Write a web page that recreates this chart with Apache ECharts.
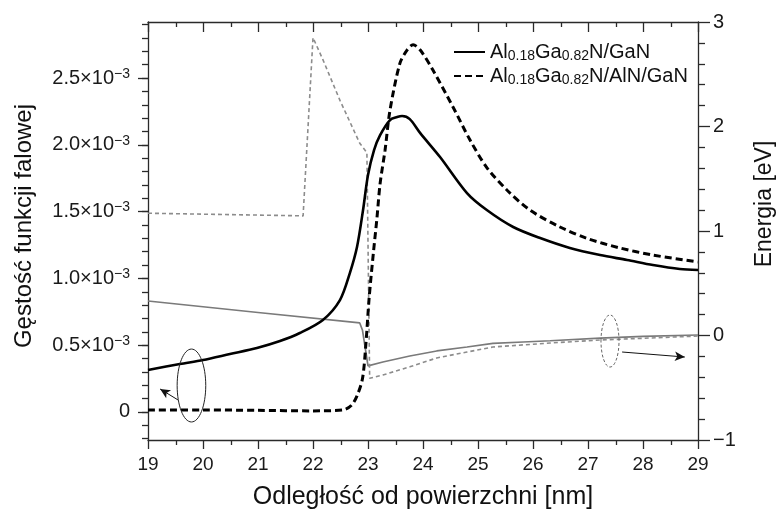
<!DOCTYPE html>
<html>
<head>
<meta charset="utf-8">
<script src="https://cdn.jsdelivr.net/npm/echarts@6/dist/echarts.min.js"></script>
<style>
  html, body { margin: 0; padding: 0; background: #fff; }
  #chart { width: 780px; height: 509px; }
</style>
</head>
<body>
<div id="chart"></div>
<script>
const FONT = "'Liberation Sans', Arial, Helvetica, sans-serif";

// Distance from the surface [nm] and wavefunction density [×10^-3]
const xGaN = [19.0, 19.58, 20.0, 20.49, 20.98, 21.4, 21.76, 22.18, 22.49, 22.67, 22.8, 22.91, 23.0, 23.11, 23.22, 23.4, 23.53, 23.62, 23.76, 23.95, 24.31, 24.8, 25.16, 25.64, 26.13, 26.67, 27.22, 27.71, 28.18, 28.67, 29.0];
const densityGaN = [0.314, 0.359, 0.389, 0.434, 0.479, 0.531, 0.591, 0.689, 0.838, 1.04, 1.235, 1.512, 1.774, 1.961, 2.073, 2.186, 2.208, 2.216, 2.193, 2.088, 1.909, 1.639, 1.512, 1.385, 1.302, 1.228, 1.175, 1.138, 1.1, 1.07, 1.063];

const xAlN = [19.0, 20.0, 21.0, 22.0, 22.55, 22.7, 22.8, 22.9, 22.96, 23.02, 23.1, 23.16, 23.22, 23.31, 23.4, 23.58, 23.71, 23.82, 23.95, 24.18, 24.55, 24.85, 25.16, 25.53, 25.95, 26.49, 26.98, 27.58, 28.18, 29.0];
const densityAlN = [0.015, 0.015, 0.012, 0.008, 0.015, 0.05, 0.12, 0.25, 0.5, 0.85, 1.2, 1.44, 1.71, 1.96, 2.26, 2.61, 2.71, 2.75, 2.71, 2.56, 2.28, 2.04, 1.83, 1.66, 1.51, 1.385, 1.3, 1.228, 1.175, 1.123];

// Conduction band edge [eV]
const xBandGaN = [19.0, 21.0, 22.85, 22.9, 23.0, 23.27, 23.76, 24.25, 24.8, 25.27, 25.82, 26.31, 27.22, 28.0, 29.0];
const bandGaN = [0.33, 0.22, 0.12, 0.05, -0.29, -0.254, -0.196, -0.148, -0.11, -0.075, -0.062, -0.05, -0.025, -0.008, 0.005];

const xBandAlN = [19.0, 21.82, 22.0, 22.18, 22.49, 22.85, 22.98, 23.03, 23.27, 23.76, 24.25, 24.8, 25.27, 25.82, 26.31, 27.22, 28.13, 29.0];
const bandAlN = [1.17, 1.145, 2.85, 2.64, 2.25, 1.84, 1.75, -0.41, -0.378, -0.30, -0.215, -0.158, -0.11, -0.09, -0.072, -0.043, -0.024, -0.005];

// Axis ticks
const distanceTicks = [19, 20, 21, 22, 23, 24, 25, 26, 27, 28, 29];
const distanceMinorTicks = [19.5, 20.5, 21.5, 22.5, 23.5, 24.5, 25.5, 26.5, 27.5, 28.5];
const densityTicks = [0, 0.5, 1.0, 1.5, 2.0, 2.5];
const densityMinorTicks = [-0.2, -0.1, 0, 0.1, 0.2, 0.3, 0.4, 0.5, 0.6, 0.7, 0.8, 0.9, 1.0, 1.1, 1.2, 1.3, 1.4, 1.5, 1.6, 1.7, 1.8, 1.9, 2.0, 2.1, 2.2, 2.3, 2.4, 2.5, 2.6, 2.7, 2.8, 2.9];
const energyRange = [-1, 3];

// Legend names
const nameGaN = 'Al0.18Ga0.82N/GaN';
const nameAlN = 'Al0.18Ga0.82N/AlN/GaN';
const legendRich = {
  [nameGaN]: '{n|Al}{s|0.18}{n|Ga}{s|0.82}{n|N/GaN}',
  [nameAlN]: '{n|Al}{s|0.18}{n|Ga}{s|0.82}{n|N/AlN/GaN}'
};

// Ellipse markers and arrows pointing to the relevant axis (data units)
const leftMarker = { center: [19.79, 0.198], radius: [0.26, 0.273] };
const leftArrow = [[19.545, 0.09], [19.22, 0.172]];
const rightMarker = { center: [27.4, -0.053], radius: [0.164, 0.249] };
const rightArrow = [[27.62, -0.158], [28.76, -0.206]];

const zip = (xs, ys) => xs.map((x, i) => [x, ys[i]]);

const AXIS_COLOR = '#2a2a2a';
const axisLineStyle = { color: AXIS_COLOR, width: 1.3 };
const LABEL_COLOR = '#1a1a1a';

const chart = echarts.init(document.getElementById('chart'), null, { renderer: 'canvas' });

const arrowMark = (pts) => ({
  silent: true,
  symbol: ['none', 'arrow'],
  symbolSize: [7, 10],
  label: { show: false },
  lineStyle: { color: '#111', width: 1, type: 'solid' },
  emphasis: { disabled: true },
  data: [[{ coord: pts[0] }, { coord: pts[1] }]]
});

chart.setOption({
  animation: false,
  textStyle: { fontFamily: FONT },
  grid: { left: 148, right: 82, top: 22, bottom: 69 },
  legend: {
    data: [nameGaN, nameAlN],
    orient: 'vertical',
    left: 448,
    top: 37,
    itemWidth: 31,
    itemHeight: 14,
    itemGap: 3,
    selectedMode: false,
    itemStyle: { opacity: 0 },
    formatter: (n) => legendRich[n],
    textStyle: {
      color: '#111',
      fontFamily: FONT,
      rich: {
        n: { fontSize: 20, lineHeight: 22, fontFamily: FONT, color: '#111' },
        s: { fontSize: 14, lineHeight: 12, verticalAlign: 'bottom', fontFamily: FONT, color: '#111' }
      }
    }
  },
  xAxis: [
    {
      type: 'value', position: 'bottom', min: 19, max: 29, interval: 1,
      axisLine: { show: true, onZero: false, lineStyle: axisLineStyle },
      axisTick: { show: true, length: 9, lineStyle: axisLineStyle },
      splitLine: { show: false },
      axisLabel: { show: true, fontSize: 19, color: LABEL_COLOR, margin: 15, fontFamily: FONT }
    },
    {
      type: 'value', position: 'top', min: 19, max: 29, interval: 1,
      axisLine: { show: true, onZero: false, lineStyle: axisLineStyle },
      axisTick: { show: false },
      splitLine: { show: false },
      axisLabel: { show: false }
    }
  ],
  yAxis: [
    {
      type: 'value', position: 'left', min: -0.21, max: 2.92,
      axisLine: { show: true, onZero: false, lineStyle: axisLineStyle },
      axisTick: { show: true, length: 10, customValues: densityTicks, lineStyle: axisLineStyle },
      splitLine: { show: false },
      axisLabel: {
        show: true,
        customValues: densityTicks,
        margin: 18,
        color: LABEL_COLOR,
        fontFamily: FONT,
        formatter: (v) => v === 0 ? '{b|0}' : '{b|' + v.toFixed(1) + '×10}{sup|−3}',
        rich: {
          b: { fontSize: 20, lineHeight: 22, fontFamily: FONT, color: LABEL_COLOR },
          sup: { fontSize: 14, lineHeight: 12, verticalAlign: 'top', fontFamily: FONT, color: LABEL_COLOR }
        }
      }
    },
    {
      type: 'value', position: 'left', min: -0.21, max: 2.92,
      axisLine: { show: false, onZero: false },
      axisTick: { show: true, length: 6, customValues: densityMinorTicks, lineStyle: axisLineStyle },
      splitLine: { show: false },
      axisLabel: { show: false }
    },
    {
      type: 'value', position: 'right', min: energyRange[0], max: energyRange[1], interval: 1,
      axisLine: { show: true, onZero: false, lineStyle: axisLineStyle },
      axisTick: { show: true, length: 12, lineStyle: axisLineStyle },
      minorTick: { show: true, splitNumber: 5, length: 7, lineStyle: axisLineStyle },
      splitLine: { show: false },
      minorSplitLine: { show: false },
      axisLabel: {
        show: true, fontSize: 20, color: LABEL_COLOR, margin: 15, fontFamily: FONT,
        formatter: (v) => v < 0 ? '−' + Math.abs(v) : String(v)
      }
    }
  ],
  series: [
    {
      name: nameGaN, type: 'line', xAxisIndex: 0, yAxisIndex: 0,
      data: zip(xGaN, densityGaN),
      symbol: 'none', smooth: 0.3,
      lineStyle: { color: '#000', width: 2.6 },
      itemStyle: { color: '#000' },
      z: 4,
      markLine: arrowMark(leftArrow)
    },
    {
      name: nameAlN, type: 'line', xAxisIndex: 0, yAxisIndex: 0,
      data: zip(xAlN, densityAlN),
      symbol: 'none', smooth: 0.3,
      lineStyle: { color: '#000', width: 3, type: [7, 4] },
      itemStyle: { color: '#000' },
      z: 4
    },
    {
      name: 'band GaN', type: 'line', xAxisIndex: 1, yAxisIndex: 2,
      data: zip(xBandGaN, bandGaN),
      symbol: 'none',
      lineStyle: { color: '#7a7a7a', width: 1.7 },
      z: 3,
      markLine: arrowMark(rightArrow)
    },
    {
      name: 'band AlN', type: 'line', xAxisIndex: 1, yAxisIndex: 2,
      data: zip(xBandAlN, bandAlN),
      symbol: 'none',
      lineStyle: { color: '#8c8c8c', width: 1.6, type: [4, 3] },
      z: 3
    }
  ],
  graphic: [
    {
      type: 'text', x: 24, y: 226, rotation: Math.PI / 2,
      style: { text: 'Gęstość funkcji falowej', fontSize: 24, fontFamily: FONT, fill: '#111', align: 'center', verticalAlign: 'middle' }
    },
    {
      type: 'text', x: 765, y: 204, rotation: Math.PI / 2,
      style: { text: 'Energia [eV]', fontSize: 23, fontFamily: FONT, fill: '#111', align: 'center', verticalAlign: 'middle' }
    },
    {
      type: 'text', x: 423, y: 497,
      style: { text: 'Odległość od powierzchni [nm]', fontSize: 25, fontFamily: FONT, fill: '#111', align: 'center', verticalAlign: 'middle' }
    }
  ]
});

// Ellipse markers placed through the axis scales
function ellipseFor(marker, xAxisIndex, yAxisIndex, style) {
  const finder = { xAxisIndex: xAxisIndex, yAxisIndex: yAxisIndex };
  const c = chart.convertToPixel(finder, marker.center);
  const e = chart.convertToPixel(finder, [marker.center[0] + marker.radius[0], marker.center[1] + marker.radius[1]]);
  return {
    type: 'ellipse', silent: true, z: 10,
    shape: { cx: c[0], cy: c[1], rx: Math.abs(e[0] - c[0]), ry: Math.abs(e[1] - c[1]) },
    style: Object.assign({ fill: 'none' }, style)
  };
}

// Frame tick marks along the distance axis: inward ticks on the top edge,
// outward half-unit ticks on the bottom edge
function frameTicks() {
  const finder = { xAxisIndex: 0, yAxisIndex: 2 };
  const style = { stroke: AXIS_COLOR, lineWidth: 1.3 };
  const tick = (x, y0, len) => ({
    type: 'line', silent: true, z: 10,
    shape: { x1: Math.round(x) + 0.5, y1: y0, x2: Math.round(x) + 0.5, y2: y0 + len },
    style: style
  });
  const out = [];
  distanceTicks.forEach(v => {
    const p = chart.convertToPixel(finder, [v, energyRange[1]]);
    out.push(tick(p[0], p[1], 10));
  });
  distanceMinorTicks.forEach(v => {
    const p = chart.convertToPixel(finder, [v, energyRange[1]]);
    const q = chart.convertToPixel(finder, [v, energyRange[0]]);
    out.push(tick(p[0], p[1], 5));
    out.push(tick(q[0], q[1], 5));
  });
  return out;
}

const opt = chart.getOption();
chart.setOption({
  graphic: opt.graphic[0].elements.concat([
    ellipseFor(leftMarker, 0, 0, { stroke: '#222', lineWidth: 1 }),
    ellipseFor(rightMarker, 1, 2, { stroke: '#666', lineWidth: 1, lineDash: [3, 2] })
  ]).concat(frameTicks())
}, { replaceMerge: ['graphic'] });
</script>
</body>
</html>
